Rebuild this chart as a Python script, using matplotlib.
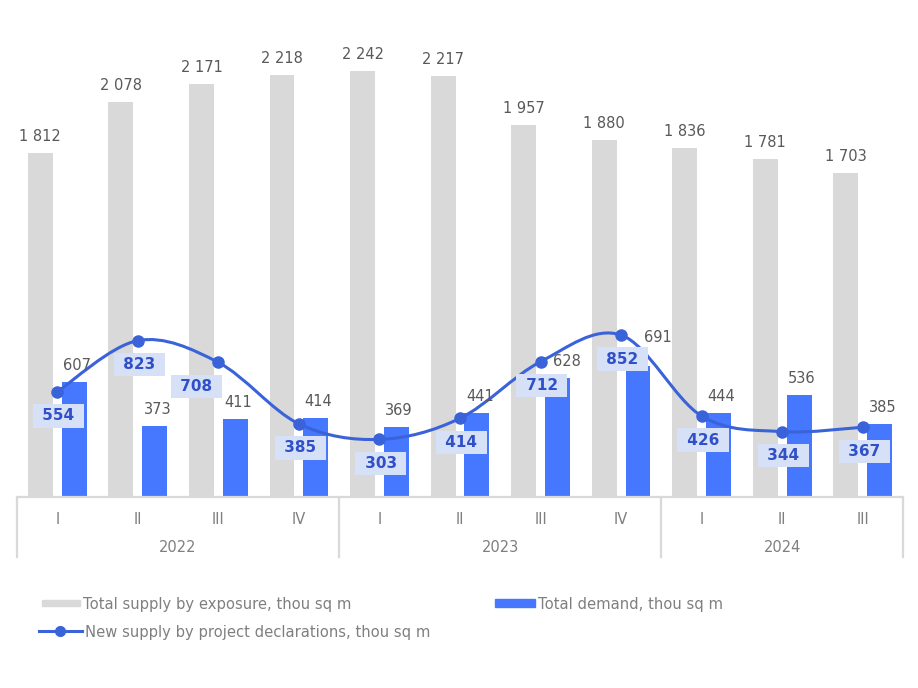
import numpy as np
import matplotlib
matplotlib.use("Agg")
import matplotlib.pyplot as plt
from matplotlib.path import Path
from matplotlib.patches import PathPatch, Patch
from matplotlib.lines import Line2D

quarters = ["I", "II", "III", "IV", "I", "II", "III", "IV", "I", "II", "III"]
years = ["2022", "2023", "2024"]
year_spans = [(0, 4), (4, 8), (8, 11)]

supply = [1812, 2078, 2171, 2218, 2242, 2217, 1957, 1880, 1836, 1781, 1703]
demand = [607, 373, 411, 414, 369, 441, 628, 691, 444, 536, 385]
new_supply = [554, 823, 708, 385, 303, 414, 712, 852, 426, 344, 367]

GREY = "#d9d9d9"
BLUE = "#4677ff"
LINE = "#3a62d9"
LABEL_BOX = "#d6e0f7"
LABEL_TXT = "#2f50c8"
TXT = "#595959"
AXTXT = "#7f7f7f"


def fmt(v):
    return f"{v:,}".replace(",", " ")


def smooth_path(xs, ys):
    # Excel-style smoothed line: cubic Bezier through each point
    pts = np.column_stack([xs, ys]).astype(float)
    n = len(pts)
    verts = [pts[0]]
    codes = [Path.MOVETO]
    for i in range(n - 1):
        p0 = pts[max(i - 1, 0)]
        p1 = pts[i]
        p2 = pts[i + 1]
        p3 = pts[min(i + 2, n - 1)]
        c1 = p1 + (p2 - p0) / 6.0
        c2 = p2 - (p3 - p1) / 6.0
        verts += [c1, c2, p2]
        codes += [Path.CURVE4] * 3
    return Path(verts, codes)


def main():
    W, H = 918, 688
    fig = plt.figure(figsize=(W / 100, H / 100), dpi=100)
    left, right, base, top = 17, 903, 497, 20
    ax = fig.add_axes([left / W, 1 - base / H, (right - left) / W, (base - top) / H])

    x = np.arange(len(quarters))
    bw = 0.31
    off = 0.21
    ax.bar(x - off, supply, bw, color=GREY, zorder=1)
    ax.bar(x + off, demand, bw, color=BLUE, zorder=1)

    ax.add_patch(PathPatch(smooth_path(x, new_supply), fill=False, edgecolor=LINE,
                           lw=2.2, zorder=3, capstyle="round"))
    ax.plot(x, new_supply, "o", color=LINE, ms=8, zorder=4)

    ax.set_xlim(-0.5, len(quarters) - 0.5)
    ax.set_ylim(0, 2510)
    ax.axis("off")

    for xi, v in zip(x, supply):
        ax.annotate(fmt(v), (xi - off, v), xytext=(0, 6.5), textcoords="offset points",
                    ha="center", va="bottom", fontsize=10.5, color=TXT)
    # demand labels; a few were moved aside in the original to avoid the line
    demand_off = {6: (7, 6.5), 7: (14, 15)}
    for i, (xi, v) in enumerate(zip(x, demand)):
        ax.annotate(fmt(v), (xi + off, v), xytext=demand_off.get(i, (2, 6.5)),
                    textcoords="offset points", ha="center", va="bottom",
                    fontsize=10.5, color=TXT)
    for i, (xi, v) in enumerate(zip(x, new_supply)):
        dx = -16 if i == 2 else 1
        ax.annotate(f" {v} ", (xi, v), xytext=(dx, -17.3), textcoords="offset points",
                    ha="center", va="center", fontsize=11, fontweight="bold",
                    color=LABEL_TXT, zorder=5,
                    bbox=dict(boxstyle="square,pad=0.28", fc=LABEL_BOX, ec="none"))

    # category axis: line, separators, quarter and year labels
    ax.plot([-0.5, len(quarters) - 0.5], [0, 0], color=GREY, lw=1.6,
            clip_on=False, zorder=2)
    sep_len = (557 - base) / (base - top) * 2510
    for b in [0, 4, 8, 11]:
        ax.plot([b - 0.5, b - 0.5], [0, -sep_len], color=GREY, lw=1.6, clip_on=False)
    q_y = -(519 - base) / (base - top) * 2510
    y_y = -(548 - base) / (base - top) * 2510
    for xi, q in zip(x, quarters):
        ax.text(xi, q_y, q, ha="center", va="center", fontsize=10.5, color=AXTXT)
    for yr, (a, b) in zip(years, year_spans):
        ax.text((a + b - 1) / 2, y_y, yr, ha="center", va="center", fontsize=10.5, color=AXTXT)

    # legend entries placed individually
    common = dict(frameon=False, fontsize=10.6, labelcolor=AXTXT, loc="center left",
                  borderpad=0, borderaxespad=0, handletextpad=0.25)
    fig.legend([Patch(color=GREY)], ["Total supply by exposure, thou sq m"],
               bbox_to_anchor=(42 / W, 1 - 604 / H), handlelength=2.55,
               handleheight=0.28, **common)
    fig.legend([Patch(color=BLUE)], ["Total demand, thou sq m"],
               bbox_to_anchor=(495 / W, 1 - 604 / H), handlelength=2.7,
               handleheight=0.47, **common)
    fig.legend([Line2D([], [], color=LINE, lw=2.2, marker="o", ms=7)],
               ["New supply by project declarations, thou sq m"],
               bbox_to_anchor=(39 / W, 1 - 632 / H), handlelength=2.9, **common)

    fig.savefig("out.png", dpi=100, facecolor="white")


if __name__ == "__main__":
    main()
